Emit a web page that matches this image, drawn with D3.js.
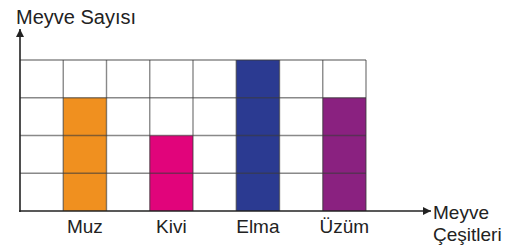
<!DOCTYPE html>
<html>
<head>
<meta charset="utf-8">
<script src="https://cdn.jsdelivr.net/npm/d3@7"></script>
<style>
  body { margin: 0; background: #fff; }
  text { font-family: "Liberation Sans", Arial, sans-serif; fill: #222; }
</style>
</head>
<body>
<script>
// fruits sit in every second column of the grid
var fruits = ["Muz", "Kivi", "Elma", "Üzüm"];
var counts = [3, 2, 4, 3];
var colors = ["#f0901f", "#e1047b", "#2b3a91", "#8a2180"];
var maxCount = 4;
var yTitle = "Meyve Sayısı";
var xTitle = ["Meyve", "Çeşitleri"];

var W = 507, H = 246;
var gLeft = 20, gRight = 366, gTop = 60, gBottom = 211;

var svg = d3.select("body").append("svg")
  .attr("width", W).attr("height", H);

// 8 columns: an empty one before each fruit
var columns = [];
fruits.forEach(function(f, i) { columns.push("gap" + i); columns.push(f); });

var x = d3.scaleBand().domain(columns).range([gLeft, gRight]).padding(0);
var y = d3.scaleLinear().domain([0, maxCount]).range([gBottom, gTop]);

// bars
svg.selectAll("rect.bar")
  .data(fruits)
  .enter().append("rect")
  .attr("class", "bar")
  .attr("x", function(d) { return x(d); })
  .attr("y", function(d, i) { return y(counts[i]); })
  .attr("width", x.bandwidth())
  .attr("height", function(d, i) { return y(0) - y(counts[i]); })
  .attr("fill", function(d, i) { return colors[i]; });

// grid
var grid = svg.append("g")
  .attr("stroke", "#3a3a3a").attr("stroke-opacity", 0.6).attr("stroke-width", 1.4);
grid.selectAll("line.h")
  .data(d3.range(1, maxCount + 1))
  .enter().append("line")
  .attr("x1", gLeft).attr("x2", gRight)
  .attr("y1", function(d) { return y(d); })
  .attr("y2", function(d) { return y(d); });
grid.selectAll("line.v")
  .data(columns.slice(1).concat(["end"]))
  .enter().append("line")
  .attr("x1", function(d) { return d == "end" ? gRight : x(d); })
  .attr("x2", function(d) { return d == "end" ? gRight : x(d); })
  .attr("y1", gTop).attr("y2", gBottom);

// axes with arrows
svg.append("defs").append("marker")
  .attr("id", "arr").attr("viewBox", "0 0 10 10")
  .attr("refX", 10).attr("refY", 5)
  .attr("markerWidth", 6).attr("markerHeight", 5)
  .attr("markerUnits", "strokeWidth")
  .attr("orient", "auto")
  .append("path").attr("d", "M0,0L10,5L0,10z").attr("fill", "#222");

svg.append("line")
  .attr("x1", gLeft).attr("y1", gBottom + 1).attr("x2", gLeft).attr("y2", 29)
  .attr("stroke", "#222").attr("stroke-width", 1.6)
  .attr("marker-end", "url(#arr)");
svg.append("line")
  .attr("x1", gLeft - 1).attr("y1", gBottom).attr("x2", 431).attr("y2", gBottom)
  .attr("stroke", "#222").attr("stroke-width", 1.6)
  .attr("marker-end", "url(#arr)");

// labels
svg.selectAll("text.cat")
  .data(fruits)
  .enter().append("text")
  .attr("class", "cat")
  .attr("x", function(d) { return x(d) + x.bandwidth() / 2; })
  .attr("y", 233)
  .attr("text-anchor", "middle")
  .style("font-size", "19px")
  .text(function(d) { return d; });

svg.append("text")
  .attr("x", 16).attr("y", 24)
  .style("font-size", "20px")
  .text(yTitle);

svg.append("text")
  .attr("x", 433).attr("y", 219)
  .style("font-size", "19px")
  .selectAll("tspan")
  .data(xTitle)
  .enter().append("tspan")
  .attr("x", 433)
  .attr("dy", function(d, i) { return i ? 22 : 0; })
  .text(function(d) { return d; });
</script>
</body>
</html>
